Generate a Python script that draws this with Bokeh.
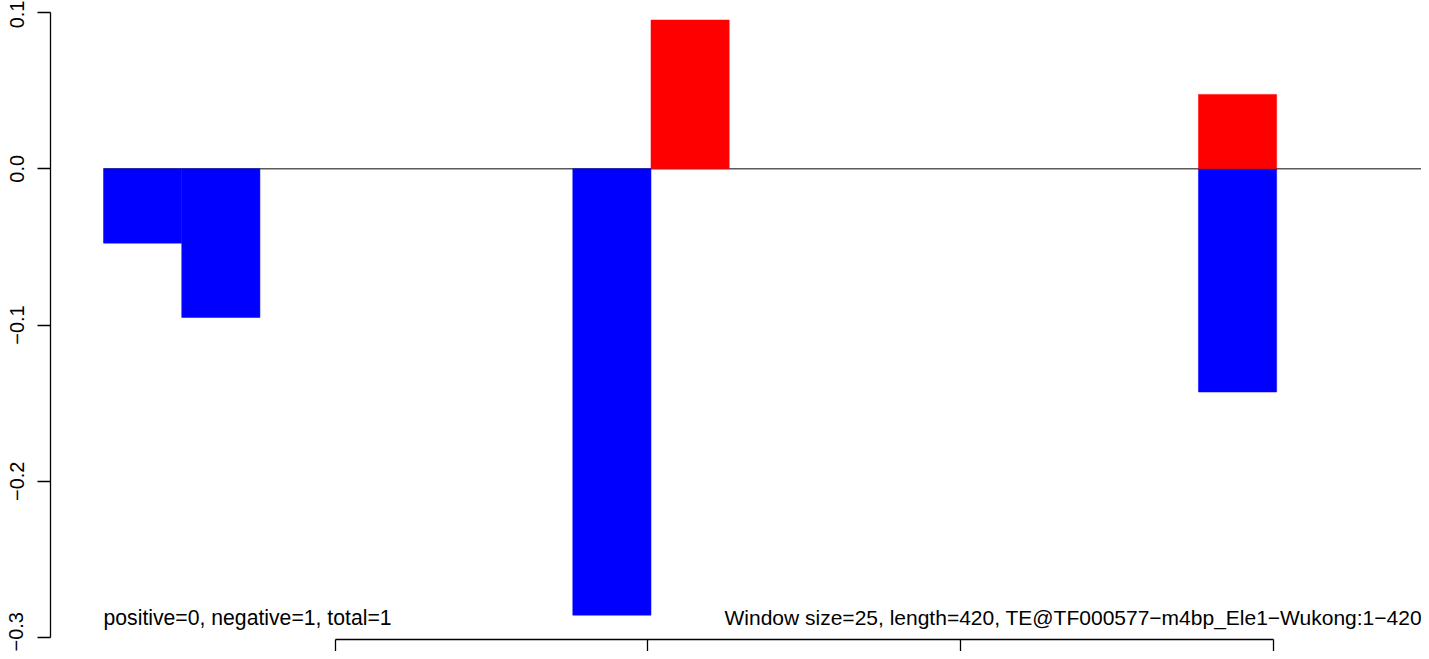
from bokeh.plotting import figure
from bokeh.models import (Range1d, FixedTicker, CustomJSTickFormatter,
                          ColumnDataSource, CustomLabelingPolicy)
from bokeh.core.properties import value
from bokeh.embed import file_html
from bokeh.resources import INLINE

# ---- data ----
window_size = 25
seq_length = 420
neg_starts = [26, 51, 176, 376]
neg_values = [-0.0476, -0.0952, -0.2857, -0.1429]
pos_starts = [201, 376]
pos_values = [0.0952, 0.0476]
x_ticks = [100, 200, 300, 400]
y_ticks = [-0.3, -0.2, -0.1, 0.0, 0.1]
left_note = "positive=0, negative=1, total=1"
right_note = "Window size=25, length=420, TE@TF000577\u2212m4bp_Ele1\u2212Wukong:1\u2212420"

FONT = "Liberation Sans"

x_lo, x_hi = 9.05, 447.3
y_lo, y_hi = -0.30128, 0.10256

p = figure(width=1421, height=651, output_backend="svg", toolbar_location=None,
           x_range=Range1d(x_lo, x_hi), y_range=Range1d(y_lo, y_hi),
           min_border_left=50, min_border_right=0, min_border_top=8,
           min_border_bottom=12, background_fill_color="white",
           border_fill_color="white")
p.outline_line_color = None
p.xgrid.visible = False
p.ygrid.visible = False

# y axis (R style)
ya = p.yaxis[0]
ya.ticker = FixedTicker(ticks=y_ticks)
ya.bounds = (y_ticks[0], y_ticks[-1])
ya.formatter = CustomJSTickFormatter(
    code="return (tick < -1e-9 ? '\u2212' : '') + Math.abs(tick).toFixed(1);")
ya.major_tick_out = 13
ya.major_tick_in = 0
ya.minor_tick_out = 0
ya.minor_tick_in = 0
ya.major_label_standoff = 14
ya.major_label_orientation = "vertical"
ya.major_label_text_font = FONT
ya.major_label_text_font_size = "20px"
ya.major_label_text_color = "black"
ya.axis_line_color = "black"
ya.major_tick_line_color = "black"
ya.axis_line_width = 1.3
ya.major_tick_line_width = 1.3

# x axis (its labels fall below the visible picture, so none are drawn)
xa = p.xaxis[0]
xa.ticker = FixedTicker(ticks=x_ticks)
xa.bounds = (x_ticks[0], x_ticks[-1])
xa.major_tick_out = 12
xa.major_tick_in = 0
xa.minor_tick_out = 0
xa.minor_tick_in = 0
xa.major_label_standoff = 0
xa.major_label_text_font_size = "0px"
xa.major_label_policy = CustomLabelingPolicy(code="""
    const all = Array.from(indices)
    for (const i of all) indices.unset(i)
    return indices
""")
xa.axis_line_color = "black"
xa.major_tick_line_color = "black"
xa.axis_line_width = 1.3
xa.major_tick_line_width = 1.3

# zero line
p.segment(x0=[neg_starts[0]], y0=[0], x1=[x_hi], y1=[0],
          line_color="#5a5a5a", line_width=1.3)

neg = ColumnDataSource(dict(left=neg_starts,
                            right=[s + window_size for s in neg_starts],
                            top=[0] * len(neg_starts), bottom=neg_values))
pos = ColumnDataSource(dict(left=pos_starts,
                            right=[s + window_size for s in pos_starts],
                            top=pos_values, bottom=[0] * len(pos_starts)))
p.quad(left="left", right="right", top="top", bottom="bottom", source=neg,
       fill_color="#0000FF", line_color="#0000FF", line_width=0.5)
p.quad(left="left", right="right", top="top", bottom="bottom", source=pos,
       fill_color="#FF0000", line_color="#FF0000", line_width=0.5)

p.text(x=[26], y=[-0.2872], text=[left_note], text_font=value(FONT),
       text_font_size="21.2px", text_align="left", text_baseline="alphabetic",
       text_color="black")
p.text(x=[224.5], y=[-0.2872], text=[right_note], text_font=value(FONT),
       text_font_size="21px", text_align="left", text_baseline="alphabetic",
       text_color="black")

open("out.html", "w").write(file_html(p, INLINE))
